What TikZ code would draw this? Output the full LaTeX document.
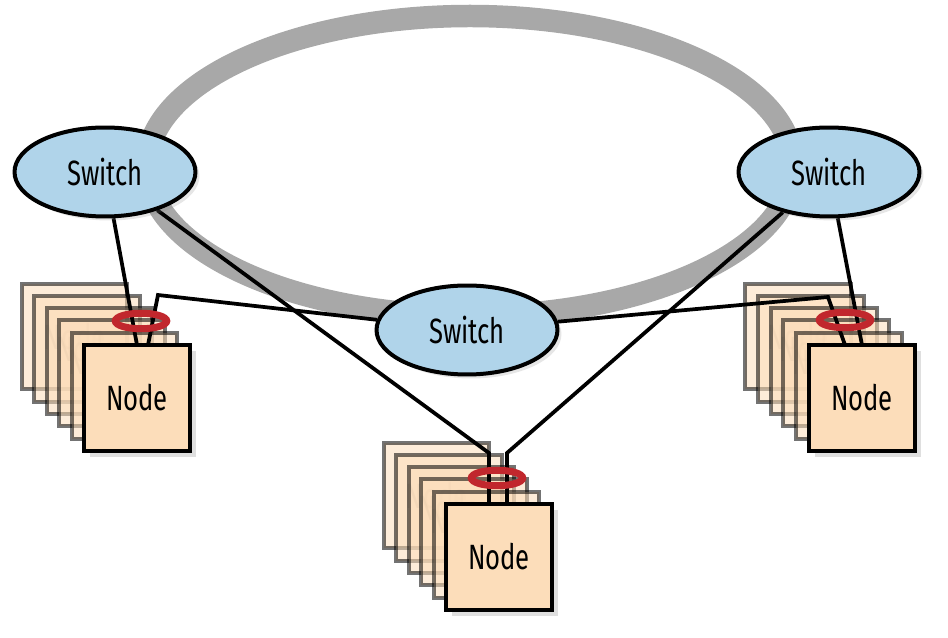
\documentclass[tikz,border=0pt]{standalone}
\usepackage{fontspec}
\setmainfont{Fira Sans}[FakeStretch=0.73]
\usetikzlibrary{shapes.geometric,shadows,backgrounds}
\definecolor{swblue}{HTML}{B0D4EA}
\definecolor{peach}{HTML}{FCDDBA}
\definecolor{ringgray}{HTML}{A8A8A8}
\definecolor{bondred}{HTML}{C1272D}

\begin{document}
\begin{tikzpicture}[x=0.02cm, y=-0.02cm, font=\fontsize{20}{24}\selectfont]
	\tikzset{
		sw/.style={ellipse, draw=black, line width=0.8mm, fill=swblue, minimum width=3.62cm, minimum height=1.78cm, inner sep=0pt,
			drop shadow={shadow xshift=0.8mm, shadow yshift=-0.8mm, opacity=0.2}},
		card/.style={rectangle, draw=black, line width=0.8mm, fill=peach, minimum size=2.12cm, inner sep=0pt,
			drop shadow={shadow xshift=1.2mm, shadow yshift=-1.2mm, opacity=0.25}},
		cardback/.style={rectangle, draw=black, line width=0.8mm, fill=peach, minimum size=2.12cm, inner sep=0pt, opacity=0.55, text opacity=0.15},
		bond/.style={ellipse, draw=bondred, line width=1.4mm, minimum width=1.03cm, minimum height=0.31cm, inner sep=0pt},
		link/.style={draw=black, line width=0.75mm}
	}
	\useasboundingbox (0,0) rectangle (948,638);
	% switches
	\node[sw] (swL) at (105,172) {Switch};
	\node[sw] (swR) at (829,172) {Switch};
	\node[sw] (swM) at (467,330) {Switch};
	% servers
	\node[card] (nL) at (137,398) {Node};
	\node[card] (nM) at (499,557) {Node};
	\node[card] (nR) at (862,398) {Node};
	% bonded links
	\node[bond] (bL) at (141,321) {};
	\node[bond] (bM) at (497,478) {};
	\node[bond] (bR) at (845,320) {};
	% ports and bends
	\coordinate (pL1) at (137,345);
	\coordinate (pL2) at (148,345);
	\coordinate (kL) at (158,295);
	\coordinate (pM1) at (489,503);
	\coordinate (pM2) at (507,503);
	\coordinate (kM1) at (489,453);
	\coordinate (kM2) at (507,453);
	\coordinate (pR1) at (845,345);
	\coordinate (pR2) at (862,345);
	\coordinate (kR) at (828,297);
	\begin{scope}[on background layer]
		\draw[ringgray, line width=4.5mm] (470,166) ellipse [x radius=323, y radius=150];
		\foreach \k in {5,4,...,1} {
			\node[cardback] (nL\k) at ({137-12.5*\k},{398-12.3*\k}) {Node};
			\node[cardback] (nM\k) at ({499-12.5*\k},{557-12.3*\k}) {Node};
			\node[cardback] (nR\k) at ({862-12.8*\k},{398-12.3*\k}) {Node};
		}
		\draw[link] (swL) -- (pL1);
		\draw[link] (swM) -- (kL) -- (pL2);
		\draw[link] (swL) -- (kM1) -- (pM1);
		\draw[link] (swR) -- (kM2) -- (pM2);
		\draw[link] (swM) -- (kR) -- (pR1);
		\draw[link] (swR) -- (pR2);
	\end{scope}
\end{tikzpicture}
\end{document}
